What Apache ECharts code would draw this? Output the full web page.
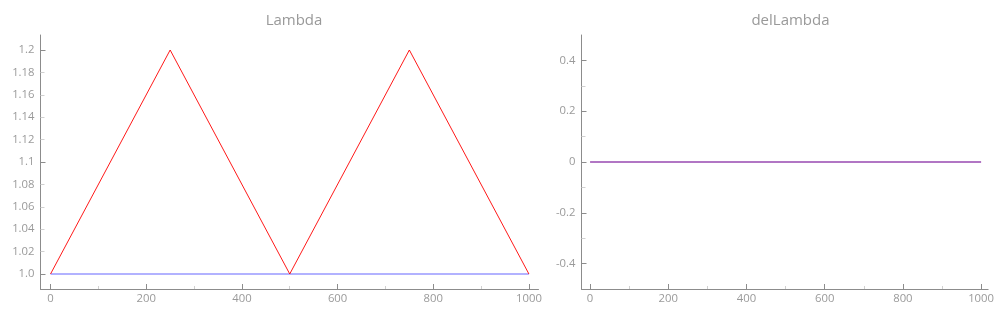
<!DOCTYPE html>
<html>
<head>
<meta charset="utf-8">
<script src="https://cdn.jsdelivr.net/npm/echarts@6/dist/echarts.min.js"></script>
<style>
html,body{margin:0;padding:0;background:#fff;}
#c{width:997px;height:316px;}
</style>
</head>
<body>
<div id="c"></div>
<script>
// ---- data ----
var xValues = [0, 250, 500, 750, 1000];
var lambdaRed = [1.0, 1.2, 1.0, 1.2, 1.0];
var lambdaBlue = [1.0, 1.0, 1.0, 1.0, 1.0];
var delLambdaRed = [0, 0, 0, 0, 0];
var delLambdaBlue = [0, 0, 0, 0, 0];

// ---- tick labels ----
var xTickLabels = ['0', '200', '400', '600', '800', '1000'];
var xMinorTicks = ['100', '300', '500', '700', '900'];
var lambdaTickLabels = ['1.0', '1.02', '1.04', '1.06', '1.08', '1.1', '1.12', '1.14', '1.16', '1.18', '1.2'];
var lambdaMajorTicks = ['1.0', '1.1', '1.2'];
var delTickLabels = ['-0.4', '-0.2', '0', '0.2', '0.4'];
var delMinorTicks = ['-0.3', '-0.1', '0.1', '0.3'];

var titles = ['Lambda', 'delLambda'];

function nums(a) { return a.map(Number); }
function fmtFrom(labels) {
  return function (v) {
    for (var i = 0; i < labels.length; i++) {
      if (Math.abs(Number(labels[i]) - v) < 1e-9) return labels[i];
    }
    return '';
  };
}
function pairs(xs, ys) { return xs.map(function (x, i) { return [x, ys[i]]; }); }

var FONT = 'Open Sans';
var AXIS = '#8c8c8c';
var MINOR = '#d0d0d0';
var LABEL = '#9a9a9a';

function mainX(grid, min, max) {
  return {
    type: 'value', gridIndex: grid, min: min, max: max, position: 'bottom',
    axisLine: { show: true, onZero: false, lineStyle: { color: AXIS, width: 1 } },
    axisTick: { show: true, inside: true, length: 5, lineStyle: { color: AXIS }, customValues: nums(xTickLabels) },
    axisLabel: { show: true, color: LABEL, fontFamily: FONT, fontSize: 11.3, margin: 4,
      customValues: nums(xTickLabels), formatter: fmtFrom(xTickLabels) },
    splitLine: { show: false }
  };
}
function minorX(grid, min, max) {
  return {
    type: 'value', gridIndex: grid, min: min, max: max, position: 'bottom', offset: 0,
    axisLine: { show: false, onZero: false },
    axisTick: { show: true, inside: true, length: 3, lineStyle: { color: MINOR }, customValues: nums(xMinorTicks) },
    axisLabel: { show: false },
    splitLine: { show: false }
  };
}
function mainY(grid, min, max, labels, majors) {
  return {
    type: 'value', gridIndex: grid, min: min, max: max, position: 'left',
    axisLine: { show: true, onZero: false, lineStyle: { color: AXIS, width: 1 } },
    axisTick: { show: true, inside: true, length: 5, lineStyle: { color: AXIS }, customValues: nums(majors) },
    axisLabel: { show: true, color: LABEL, fontFamily: FONT, fontSize: 11.3, margin: 6,
      customValues: nums(labels), formatter: fmtFrom(labels) },
    splitLine: { show: false }
  };
}
function minorY(grid, min, max, minors) {
  return {
    type: 'value', gridIndex: grid, min: min, max: max, position: 'left', offset: 0,
    axisLine: { show: false, onZero: false },
    axisTick: { show: true, inside: true, length: 4, lineStyle: { color: MINOR }, customValues: nums(minors) },
    axisLabel: { show: false },
    splitLine: { show: false }
  };
}

var lambdaMinor = lambdaTickLabels.filter(function (l) { return lambdaMajorTicks.indexOf(l) < 0; });

var option = {
  animation: false,
  backgroundColor: '#fff',
  title: [
    { text: titles[0], left: 289, top: 8, textAlign: 'center',
      textStyle: { color: '#999', fontFamily: FONT, fontSize: 15, fontWeight: 'normal' } },
    { text: titles[1], left: 785.5, top: 8, textAlign: 'center',
      textStyle: { color: '#999', fontFamily: FONT, fontSize: 15, fontWeight: 'normal' } }
  ],
  grid: [
    { left: 40.5, top: 35, width: 498, height: 254 },
    { left: 581.5, top: 35, width: 408, height: 254 }
  ],
  xAxis: [
    mainX(0, -21, 1020), minorX(0, -21, 1020),
    mainX(1, -22, 1018), minorX(1, -22, 1018)
  ],
  yAxis: [
    mainY(0, 0.9866, 1.2134, lambdaTickLabels, lambdaMajorTicks), minorY(0, 0.9866, 1.2134, lambdaMinor),
    mainY(1, -0.5, 0.5, delTickLabels, delTickLabels), minorY(1, -0.5, 0.5, delMinorTicks)
  ],
  series: [
    { type: 'line', xAxisIndex: 0, yAxisIndex: 0, data: pairs(xValues, lambdaBlue), showSymbol: false,
      lineStyle: { color: '#0000ff', width: 1.2, opacity: 0.6 } },
    { type: 'line', xAxisIndex: 0, yAxisIndex: 0, data: pairs(xValues, lambdaRed), showSymbol: false,
      lineStyle: { color: '#ff0000', width: 1, opacity: 0.9 } },
    { type: 'line', xAxisIndex: 2, yAxisIndex: 2, data: pairs(xValues, delLambdaRed), showSymbol: false,
      lineStyle: { color: '#ff3030', width: 1.5, opacity: 0.6 } },
    { type: 'line', xAxisIndex: 2, yAxisIndex: 2, data: pairs(xValues, delLambdaBlue), showSymbol: false,
      lineStyle: { color: '#3030ff', width: 1.5, opacity: 0.5 } }
  ]
};

var chart = echarts.init(document.getElementById('c'), null, { renderer: 'canvas' });
chart.setOption(option);
</script>
</body>
</html>
